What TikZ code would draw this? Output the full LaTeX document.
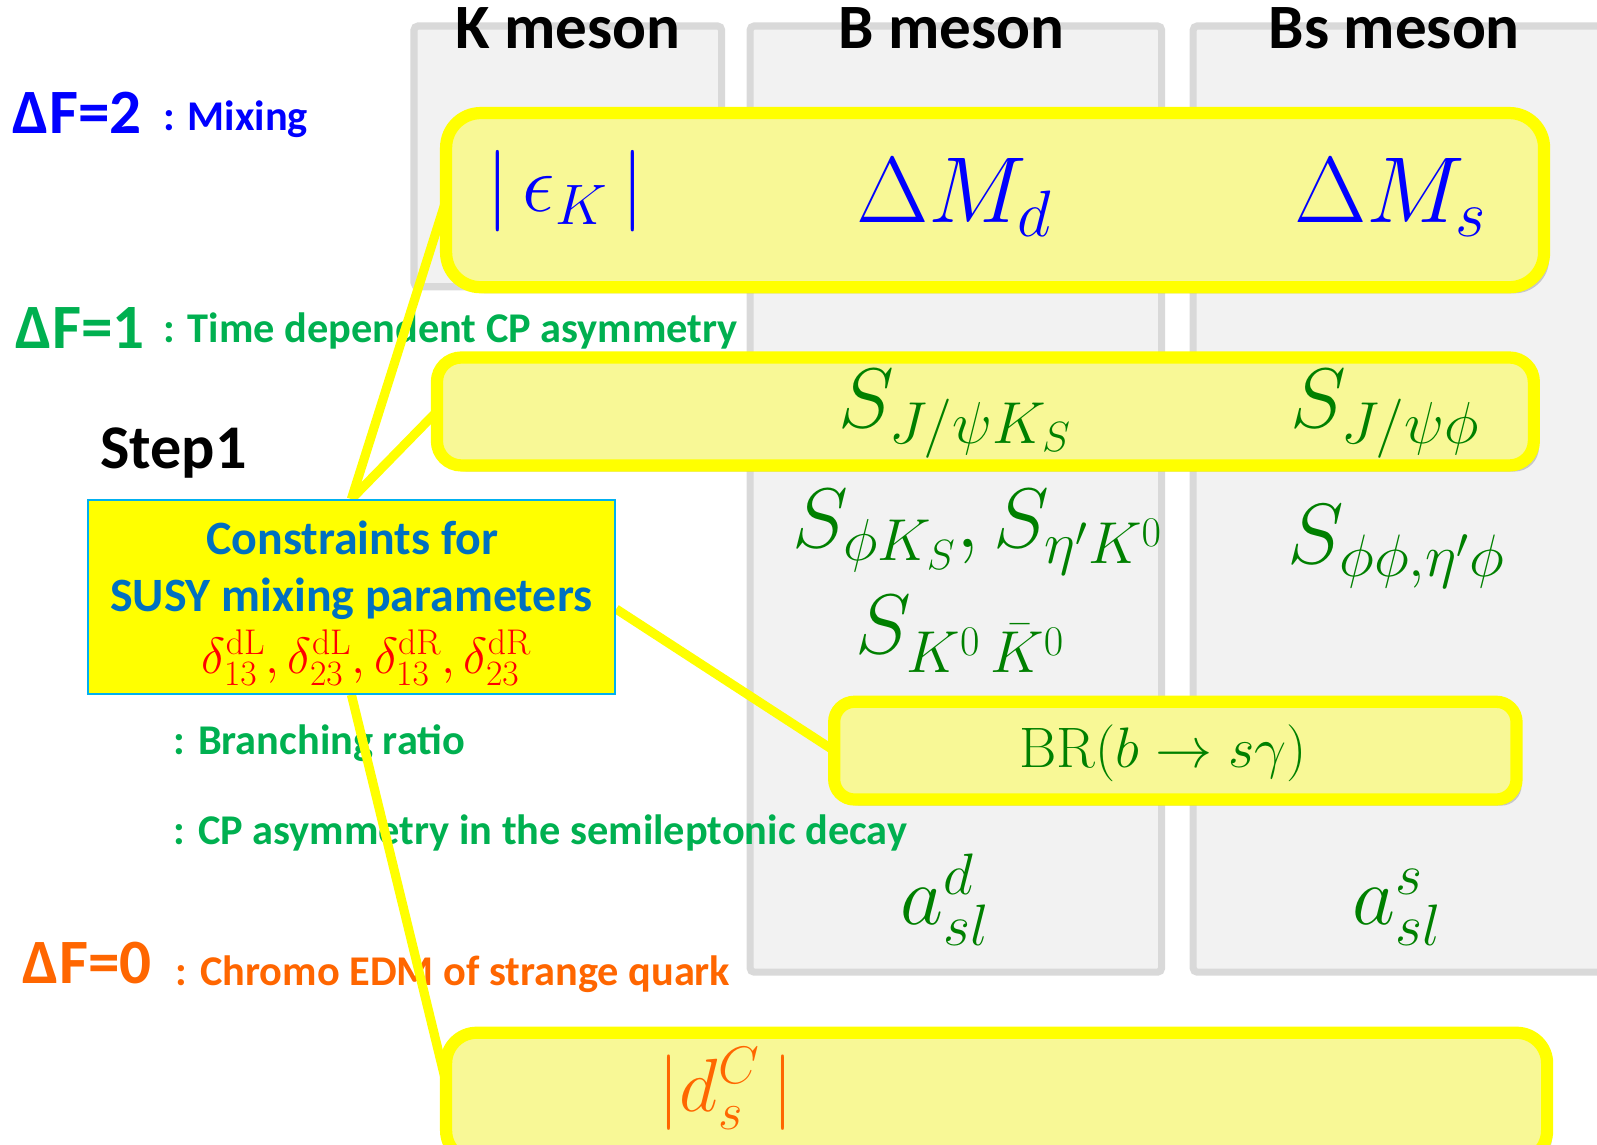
\RequirePackage{fix-cm}
\documentclass[tikz,border=0pt]{standalone}
\usepackage[no-math]{fontspec}
\setmainfont{Carlito}
\usetikzlibrary{shadows}
\definecolor{colfill}{HTML}{F2F2F2}
\definecolor{colline}{HTML}{D9D9D9}
\definecolor{yfill}{RGB}{248,248,150}
\definecolor{ybord}{HTML}{FFFF00}
\definecolor{cborder}{HTML}{00B0F0}
\definecolor{fblue}{HTML}{0000FF}
\definecolor{fgreen}{HTML}{00B050}
\definecolor{mgreen}{HTML}{008000}
\definecolor{forange}{HTML}{FF6600}
\definecolor{cblue}{HTML}{0070C0}
\definecolor{fred}{HTML}{FF0000}
\pgfdeclarelayer{bg}
\pgfdeclarelayer{lines}
\pgfsetlayers{bg,lines,main}
\begin{document}
\begin{tikzpicture}[x=0.5pt,y=-0.5pt,
  col/.style={draw=colline,fill=colfill,line width=3.5pt,rounded corners=2pt},
  ybox/.style={draw=ybord,fill=yfill,line width=6pt,inner sep=0pt,outer sep=0pt,
    drop shadow={shadow xshift=2.5pt,shadow yshift=-3pt,opacity=0.3,fill=black!60}},
  conn/.style={draw=ybord,line width=4.5pt},
  hdr/.style={anchor=base,inner sep=0pt,font=\fontsize{31pt}{36pt}\selectfont\bfseries},
  biglbl/.style={anchor=base west,inner sep=0pt,font=\fontsize{31pt}{36pt}\selectfont\bfseries},
  smalllbl/.style={anchor=base west,inner sep=0pt,font=\fontsize{20.8pt}{24pt}\selectfont\bfseries},
  ctext/.style={anchor=base,inner sep=0pt,text=cblue,font=\fontsize{23.5pt}{28pt}\selectfont\bfseries},
  mth/.style={anchor=base,inner sep=0pt},
]
\useasboundingbox (0,0) rectangle (1568,1124);

\begin{pgfonlayer}{bg}
  % columns
  \draw[col] (406.5,25.5) rectangle (708.5,281.5);
  \draw[col] (736.5,25.5) rectangle (1140.5,954.5);
  \draw[col] (1171.5,25.5) rectangle (1640,954.5);
  % headers
  \node[hdr] (hK) at (558,48) {K meson};
  \node[hdr] (hB) at (934,48) {B meson};
  \node[hdr] (hBs) at (1369,48) {Bs meson};
  % left labels
  \node[biglbl,text=fblue] (d2) at (12,131) {ΔF=2};
  \node[smalllbl,text=fblue] (mix) at (160,128) {: Mixing};
  \node[biglbl,text=fgreen] (d1) at (15,342) {ΔF=1};
  \node[smalllbl,text=fgreen] (tdcp) at (160,336) {: Time dependent CP asymmetry};
  \node[biglbl,text=black,font=\fontsize{30.5pt}{36pt}\selectfont\bfseries] (step) at (98,460) {Step1};
  \node[smalllbl,text=fgreen] (brl) at (170,741) {: Branching ratio};
  \node[smalllbl,text=fgreen] (cpsl) at (170,829) {: CP asymmetry in the semileptonic decay};
  \node[biglbl,text=forange] (d0) at (22,966) {ΔF=0};
  \node[smalllbl,text=forange] (cedm) at (172,968) {: Chromo EDM of strange quark};
\end{pgfonlayer}

% yellow boxes
\node[ybox,rounded corners=17pt,minimum width=539pt,minimum height=85.5pt] (b1) at (977,196.5) {};
\node[ybox,rounded corners=12pt,minimum width=538.5pt,minimum height=53pt] (b2) at (967.5,404) {};
\node[ybox,rounded corners=10pt,minimum width=335pt,minimum height=48pt] (b3) at (1154,737) {};
\node[ybox,rounded corners=15pt,minimum width=540.5pt,minimum height=63pt] (b4) at (978.5,1077) {};

% constraints box
\node[draw=cborder,fill=ybord,line width=1pt,minimum width=259pt,minimum height=95pt,inner sep=0pt] (cons) at (345,586) {};
\node[ctext] (c1) at (346,544) {Constraints for};
\node[ctext] (c2) at (345,600) {SUSY mixing parameters};
\node[mth,text=fred,font=\fontsize{25pt}{30pt}\selectfont] (c3) at (360,661)
  {$\delta^{\rm dL}_{13},\delta^{\rm dL}_{23},\delta^{\rm dR}_{13},\delta^{\rm dR}_{23}$};

% connectors
\begin{pgfonlayer}{lines}
  \draw[conn] (cons.north) -- (b1.west);
  \draw[conn] (cons.north) -- (b2.west);
  \draw[conn] ([yshift=-6pt]cons.east) -- (b3.west);
  \draw[conn] (cons.south) -- ([yshift=7pt]b4.west);
\end{pgfonlayer}

% math entries
\node[mth,text=fblue,font=\fontsize{40pt}{46pt}\selectfont] (eK) at (555,208) {$|\,\epsilon_K\,|$};
\node[mth,text=fblue,font=\fontsize{46pt}{52pt}\selectfont] (dMd) at (937,218) {$\Delta M_d$};
\node[mth,text=fblue,font=\fontsize{46pt}{52pt}\selectfont] (dMs) at (1365,218) {$\Delta M_s$};
\node[mth,text=mgreen,font=\fontsize{41.5pt}{48pt}\selectfont] (sJK) at (938,420) {$S_{J/\psi K_S}$};
\node[mth,text=mgreen,font=\fontsize{41.5pt}{48pt}\selectfont] (sJphi) at (1360,420) {$S_{J/\psi\phi}$};
\node[mth,text=mgreen,font=\fontsize{41.5pt}{48pt}\selectfont] (sphiK) at (960,538) {$S_{\phi K_S}, S_{\eta' K^0}$};
\node[mth,text=mgreen,font=\fontsize{42pt}{48pt}\selectfont] (sphiphi) at (1371,553) {$S_{\phi\phi,\eta'\phi}$};
\node[mth,text=mgreen,font=\fontsize{41.5pt}{48pt}\selectfont] (sKK) at (943,642) {$S_{K^0\,\bar{K}^0}$};
\node[mth,text=mgreen,font=\fontsize{28pt}{32pt}\selectfont] (brbsg) at (1142,754) {$\mathrm{BR}(b\to s\gamma)$};
\node[mth,text=mgreen,font=\fontsize{41pt}{48pt}\selectfont] (asld) at (928,908) {$a^d_{sl}$};
\node[mth,text=mgreen,font=\fontsize{41pt}{48pt}\selectfont] (asls) at (1372,908) {$a^s_{sl}$};
\node[mth,text=forange,font=\fontsize{37pt}{42pt}\selectfont] (dsC) at (713,1091) {$|d^C_s\,|$};
\end{tikzpicture}
\end{document}
